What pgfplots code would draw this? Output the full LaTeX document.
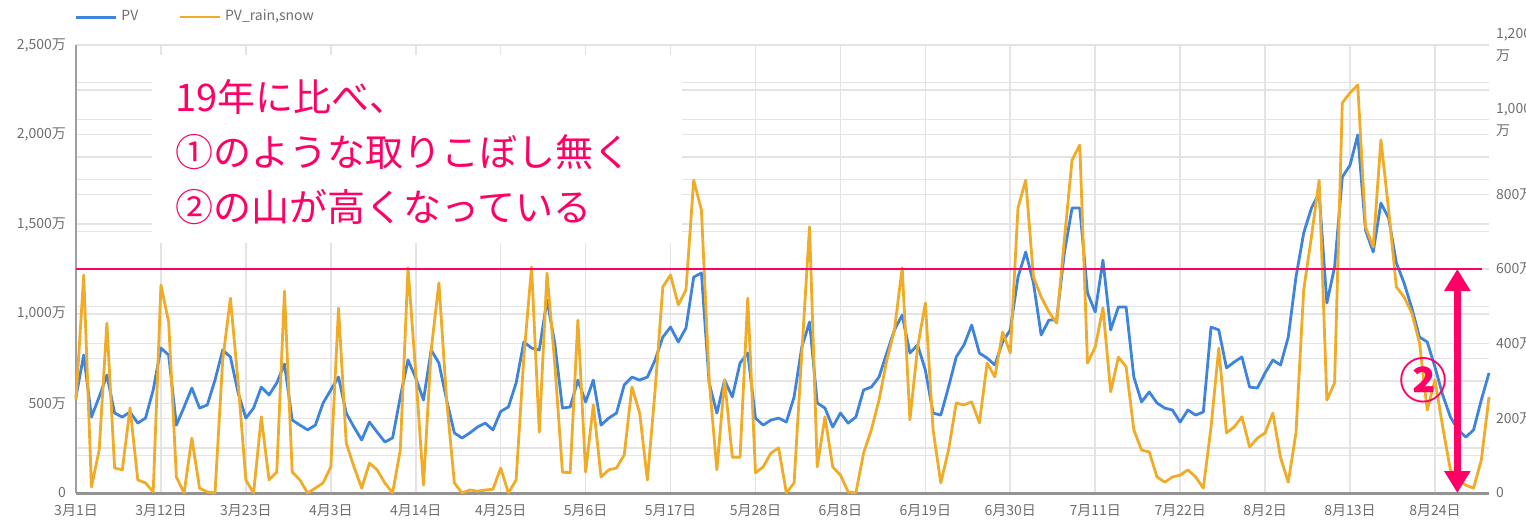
\documentclass[border=0pt]{standalone}
\usepackage{fontspec}
\setmainfont{Noto Sans CJK JP}
\usepackage{pgfplots}
\pgfplotsset{compat=1.18}
\usepackage{pgfplotstable}
\usetikzlibrary{arrows.meta}

\definecolor{pvblue}{RGB}{62,132,222}
\definecolor{pvorange}{RGB}{240,172,40}
\definecolor{anno}{RGB}{255,0,102}
\definecolor{tickgray}{RGB}{110,110,110}
\definecolor{gridgray}{RGB}{228,228,228}

\pgfplotstableread{
day pv rain
0 536 250
1 770 584
2 424 16
3 536 115
4 658 455
5 446 67
6 424 62
7 452 228
8 390 35
9 418 27
10 575 3
11 809 557
12 770 458
13 379 43
14 480 0
15 586 147
16 474 13
17 491 3
18 630 0
19 798 356
20 759 522
21 558 295
22 418 35
23 474 0
24 591 204
25 547 35
26 614 56
27 720 541
28 407 56
29 379 35
30 352 0
31 379 13
32 502 27
33 575 70
34 647 495
35 446 134
36 368 70
37 296 13
38 396 80
39 340 62
40 285 27
41 307 0
42 536 115
43 742 603
44 642 321
45 519 21
46 798 383
47 725 563
48 519 249
49 335 27
50 307 0
51 335 8
52 368 5
53 390 8
54 352 10
55 455 67
56 480 0
57 614 35
58 843 364
59 809 605
60 798 163
61 1077 589
62 837 348
63 474 56
64 480 54
65 630 463
66 508 56
67 630 236
68 379 43
69 418 62
70 446 67
71 603 102
72 647 284
73 630 214
74 647 35
75 742 276
76 870 552
77 926 584
78 843 504
79 921 544
80 1205 838
81 1228 758
82 614 303
83 446 62
84 630 303
85 536 96
86 725 96
87 781 522
88 418 54
89 379 70
90 407 107
91 418 121
92 396 0
93 536 27
94 815 375
95 954 713
96 502 70
97 474 204
98 368 70
99 446 48
100 390 3
101 424 0
102 575 107
103 591 169
104 647 249
105 781 355
106 910 437
107 993 603
108 781 196
109 826 391
110 686 509
111 446 169
112 435 27
113 591 115
114 759 241
115 826 236
116 937 244
117 781 188
118 753 348
119 714 311
120 843 431
121 910 375
122 1205 764
123 1345 838
124 1172 579
125 882 525
126 965 485
127 965 455
128 1339 678
129 1590 892
130 1590 932
131 1116 348
132 1010 391
133 1300 496
134 910 271
135 1038 364
136 1038 338
137 647 169
138 508 115
139 564 110
140 502 43
141 474 29
142 463 43
143 396 48
144 463 62
145 435 43
146 452 13
147 926 177
148 910 388
149 698 161
150 731 177
151 759 204
152 591 123
153 586 147
154 670 161
155 742 214
156 714 95
157 870 29
158 1205 161
159 1451 544
160 1590 686
161 1674 838
162 1060 249
163 1261 295
164 1763 1045
165 1830 1072
166 1998 1093
167 1468 713
168 1345 659
169 1618 946
170 1535 758
171 1284 552
172 1172 525
173 1032 482
174 870 402
175 843 222
176 703 303
177 547 177
178 424 62
179 352 35
180 312 21
181 352 13
182 519 88
183 670 257
}\chartdata

\pgfplotsset{
  base/.style={
    scale only axis, width=706.5pt, height=224pt,
    at={(38pt,14pt)}, anchor=south west,
    xmin=0, xmax=183, ymin=0,
    axis line style={draw=none},
    tick style={draw=none},
    ticklabel style={font=\fontsize{7pt}{11pt}\selectfont, text=tickgray},
  },
}

\begin{document}
\begin{tikzpicture}
% axis 1: right-scale grid and labels
\begin{axis}[base,
  ymax=1200,
  ytick={0,200,...,1200},
  minor ytick={100,300,...,1100},
  yticklabel pos=right,
  yticklabels={0,{200万},{400万},{600万},{800万},{1,000\\万},{1,200\\万}},
  yticklabel style={align=left},
  ymajorgrids, yminorgrids,
  major grid style={draw=gridgray, line width=0.8pt},
  minor grid style={draw=gridgray, line width=0.8pt},
  xtick=\empty,
]
\addplot[draw=none] coordinates {(0,0)};
\end{axis}

% axis 2: left scale, x axis, PV
\begin{axis}[base,
  ymax=2500,
  ytick={0,500,...,2500},
  minor ytick={250,750,...,2250},
  yticklabels={0,{500万},{1,000万},{1,500万},{2,000万},{2,500万}},
  yticklabel style={xshift=-1.5pt},
  xtick={0,11,...,176},
  xticklabels={3月1日,3月12日,3月23日,4月3日,4月14日,4月25日,5月6日,5月17日,5月28日,6月8日,6月19日,6月30日,7月11日,7月22日,8月2日,8月13日,8月24日},
  xticklabel style={yshift=-2pt},
  ymajorgrids, yminorgrids, xmajorgrids,
  major grid style={draw=gridgray, line width=0.8pt},
  minor grid style={draw=gridgray, line width=0.8pt},
  clip=false,
]
\addplot[pvblue, line width=1.4pt, line join=round] table[x=day, y=pv] {\chartdata};
\draw[draw=gray!75, line width=1pt] (axis cs:0,0) -- (axis cs:0,2500);
\draw[draw=gray!85, line width=1.5pt] (axis cs:0,0) -- (axis cs:183,0);
\end{axis}

% axis 3: right scale, PV_rain,snow
\begin{axis}[base,
  ymax=1200,
  xtick=\empty, ytick=\empty,
  clip=false,
  legend columns=2,
  legend style={at={(0,1)}, anchor=west, yshift=14pt, xshift=-1pt,
    draw=none, fill=none, inner sep=0pt,
    font=\fontsize{7pt}{8pt}\selectfont, text=tickgray,
    /tikz/every even column/.append style={column sep=18pt}},
  legend image code/.code={\draw[#1] (0pt,0pt) -- (20pt,0pt);},
]
\addlegendimage{pvblue, line width=1.5pt}
\addlegendentry{PV}
\addplot[pvorange, line width=1.4pt, line join=round] table[x=day, y=rain] {\chartdata};
\addlegendentry{PV\_rain,snow}
\draw[anno, line width=0.7pt] (axis cs:0,600) -- (axis cs:182.1,600);
\draw[anno, line width=3.5pt, {Triangle[width=12.5pt,length=11pt]}-{Triangle[width=12.5pt,length=11pt]}] (axis cs:178.9,600) -- (axis cs:178.9,0);
\node[anno, font=\fontsize{24pt}{24pt}\selectfont\bfseries] at (axis cs:174.5,303) {②};
\end{axis}

% annotation box
\fill[white] (76pt,139pt) rectangle (341pt,233pt);
\begin{scope}[every node/.style={anchor=west, inner sep=0pt, text=anno, font=\fontsize{19pt}{19pt}\selectfont}]
\node at (87.5pt,212pt) {19年に比べ、};
\node at (87.5pt,184.5pt) {①のような取りこぼし無く};
\node at (87.5pt,157pt) {②の山が高くなっている};
\end{scope}

\pgfresetboundingbox
\path (0,0) rectangle (763pt,260.5pt);
\end{tikzpicture}
\end{document}
